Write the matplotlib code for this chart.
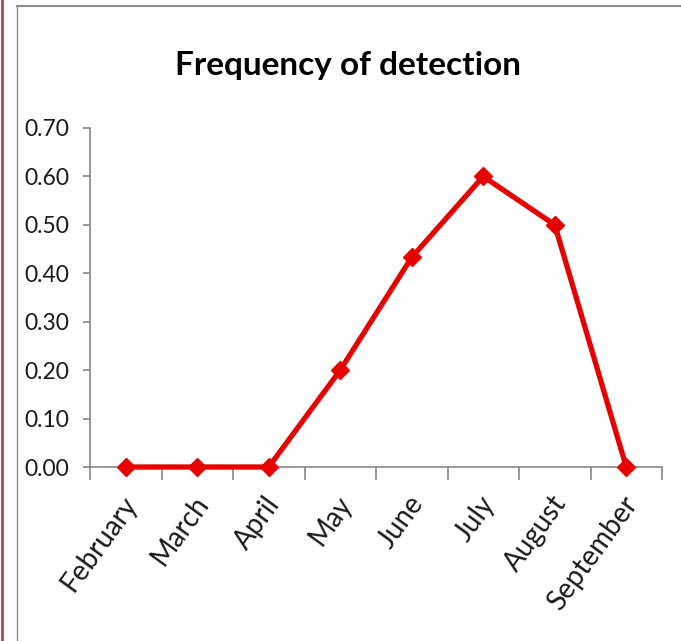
import matplotlib
matplotlib.use("Agg")
import matplotlib.pyplot as plt
import matplotlib.transforms as mtransforms
from matplotlib import font_manager
from matplotlib.lines import Line2D

# Data
months = ['February', 'March', 'April', 'May', 'June', 'July', 'August', 'September']
frequency = [0.0, 0.0, 0.0, 0.20, 0.433, 0.60, 0.50, 0.0]
y_ticks = [0.0, 0.1, 0.2, 0.3, 0.4, 0.5, 0.6, 0.7]


def pick_font(candidates):
    for name in candidates:
        try:
            font_manager.findfont(font_manager.FontProperties(family=name),
                                  fallback_to_default=False)
            return name
        except Exception:
            continue
    return 'DejaVu Sans'


FONT = pick_font(['Liberation Sans Narrow', 'Lato', 'Liberation Sans'])
plt.rcParams['font.family'] = [FONT, 'DejaVu Sans']

W, H, DPI = 681, 641, 100
fig = plt.figure(figsize=(W / DPI, H / DPI), dpi=DPI, facecolor='white')

# outer frame bits seen in the screenshot
fig.add_artist(Line2D([17 / W, 1.0], [1 - 6 / H, 1 - 6 / H], color='#8c8c8c', lw=1.5))
fig.add_artist(Line2D([17 / W, 17 / W], [0, 1 - 6 / H], color='#8c8c8c', lw=1.0))
fig.add_artist(Line2D([2 / W, 2 / W], [0, 1], color='#a0504f', lw=2.0))

ax = fig.add_axes([90 / W, 1 - 467 / H, (662 - 90) / W, (467 - 128) / H])
x = list(range(len(months)))
ax.plot(x, frequency, color='#e60000', lw=3.8, marker='D', markersize=9,
        markeredgecolor='#e60000', markerfacecolor='#e60000', clip_on=False, zorder=3)

ax.set_xlim(-0.5, len(months) - 0.5)
ax.set_ylim(0, 0.7)
ax.set_yticks(y_ticks)
ax.set_yticklabels([f'{v:.2f}' for v in y_ticks], fontsize=16.5, color='#1a1a1a')
ax.set_xticks(x)
ax.set_xticklabels(months, fontsize=20, color='#1a1a1a', rotation=54,
                   ha='right', va='center', rotation_mode='anchor')
ax.set_xticks([i - 0.5 for i in range(len(months) + 1)], minor=True)

for side in ['top', 'right']:
    ax.spines[side].set_visible(False)
for side in ['left', 'bottom']:
    ax.spines[side].set_color('#868686')
    ax.spines[side].set_linewidth(1.2)

ax.tick_params(axis='y', length=5, width=1.2, color='#868686', pad=10)
ax.tick_params(axis='x', which='major', length=0, pad=23)
ax.tick_params(axis='x', which='minor', length=9, width=1.2, color='#868686')

offset = mtransforms.ScaledTranslation(6 / DPI, 0, fig.dpi_scale_trans)
for lbl in ax.get_xticklabels():
    lbl.set_transform(lbl.get_transform() + offset)

fig.text(348 / W, 1 - 75 / H, 'Frequency of detection', ha='center', va='baseline',
         fontsize=24, fontweight='bold', color='black')

fig.savefig('out.png', dpi=DPI, facecolor='white')
